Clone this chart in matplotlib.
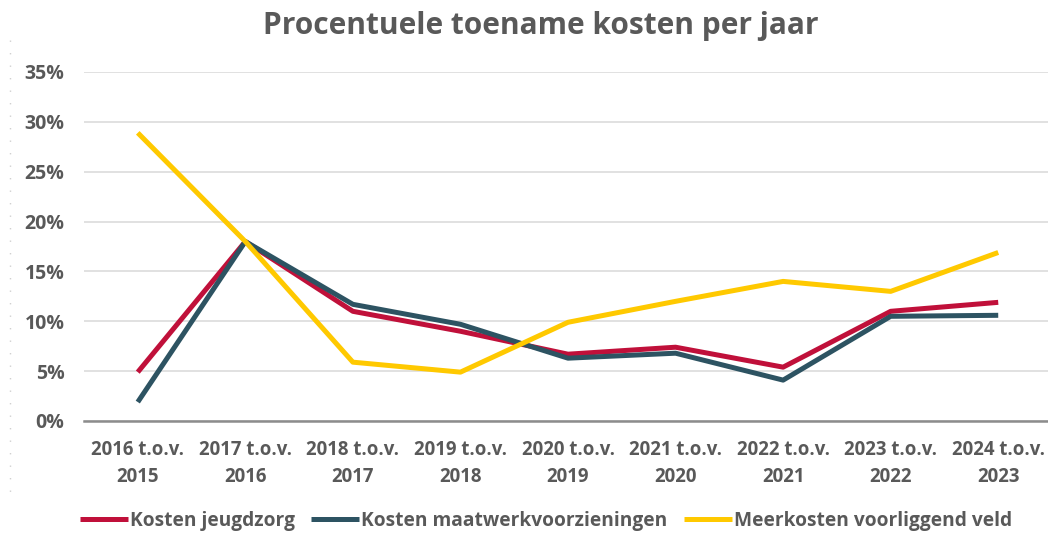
import matplotlib.pyplot as plt
from matplotlib.ticker import PercentFormatter

categories = ['2016 t.o.v.\n2015', '2017 t.o.v.\n2016', '2018 t.o.v.\n2017',
              '2019 t.o.v.\n2018', '2020 t.o.v.\n2019', '2021 t.o.v.\n2020',
              '2022 t.o.v.\n2021', '2023 t.o.v.\n2022', '2024 t.o.v.\n2023']
jeugdzorg = [4.9, 18.0, 11.0, 9.0, 6.7, 7.4, 5.4, 11.0, 11.9]
maatwerk = [1.9, 18.0, 11.7, 9.7, 6.3, 6.8, 4.1, 10.5, 10.6]
voorliggend = [28.9, 18.0, 5.9, 4.9, 9.9, 12.0, 14.0, 13.0, 16.9]
yticks = [0, 5, 10, 15, 20, 25, 30, 35]

plt.rcParams['font.family'] = ['Open Sans', 'DejaVu Sans']
grey = '#595959'

def main():
	fig = plt.figure(figsize=(10.48, 5.36), dpi=100)
	W, H = 1048, 536
	# axes placed in pixel terms, right side runs just past the figure edge
	left, right, top, bottom = 84, 1052, 72, 421
	ax = fig.add_axes([left / W, 1 - bottom / H, (right - left) / W, (bottom - top) / H])
	x = list(range(len(categories)))

	ax.plot(x, jeugdzorg, color='#C0103A', lw=3.6, label='Kosten jeugdzorg', solid_capstyle='butt')
	ax.plot(x, maatwerk, color='#2D5362', lw=3.6, label='Kosten maatwerkvoorzieningen', solid_capstyle='butt')
	ax.plot(x, voorliggend, color='#FFC900', lw=3.6, label='Meerkosten voorliggend veld', solid_capstyle='butt')

	ax.set_xlim(-0.5, 8.5)
	ax.set_ylim(0, 35)
	ax.set_yticks(yticks)
	ax.yaxis.set_major_formatter(PercentFormatter(decimals=0))
	ax.set_xticks(x)
	ax.set_xticklabels(categories, fontsize=13.4, fontweight='bold', color=grey, linespacing=1.45)
	for t in ax.get_yticklabels():
		t.set_fontsize(14)
		t.set_fontweight('bold')
		t.set_color(grey)
	ax.tick_params(length=0)
	ax.tick_params(axis='y', pad=14)
	ax.tick_params(axis='x', pad=14)
	ax.grid(axis='y', color='#D9D9D9', lw=1.1)
	ax.set_axisbelow(True)
	for s in ['top', 'right', 'left']:
		ax.spines[s].set_visible(False)
	ax.spines['bottom'].set_color('#8C8C8C')
	ax.spines['bottom'].set_linewidth(1.8)

	fig.text(541 / W, 1 - 26 / H, 'Procentuele toename kosten per jaar', ha='center', va='center',
	         fontsize=21.5, fontweight='bold', color=grey)

	fig.legend(loc='center', bbox_to_anchor=(546 / W, 1 - 521 / H), ncol=3, frameon=False,
	           handlelength=2.5, handletextpad=0.1, columnspacing=0.85,
	           prop={'size': 13.8, 'weight': 'bold'}, labelcolor=grey)

	# faint dotted border line at the left edge
	fig.add_artist(plt.Line2D([10 / W, 10 / W], [1 - 40 / H, 1 - 500 / H], transform=fig.transFigure,
	                          color='#D0D0D0', lw=1, ls=(0, (1, 8))))

	fig.savefig('out.png', dpi=100)


if __name__ == '__main__':
	main()
